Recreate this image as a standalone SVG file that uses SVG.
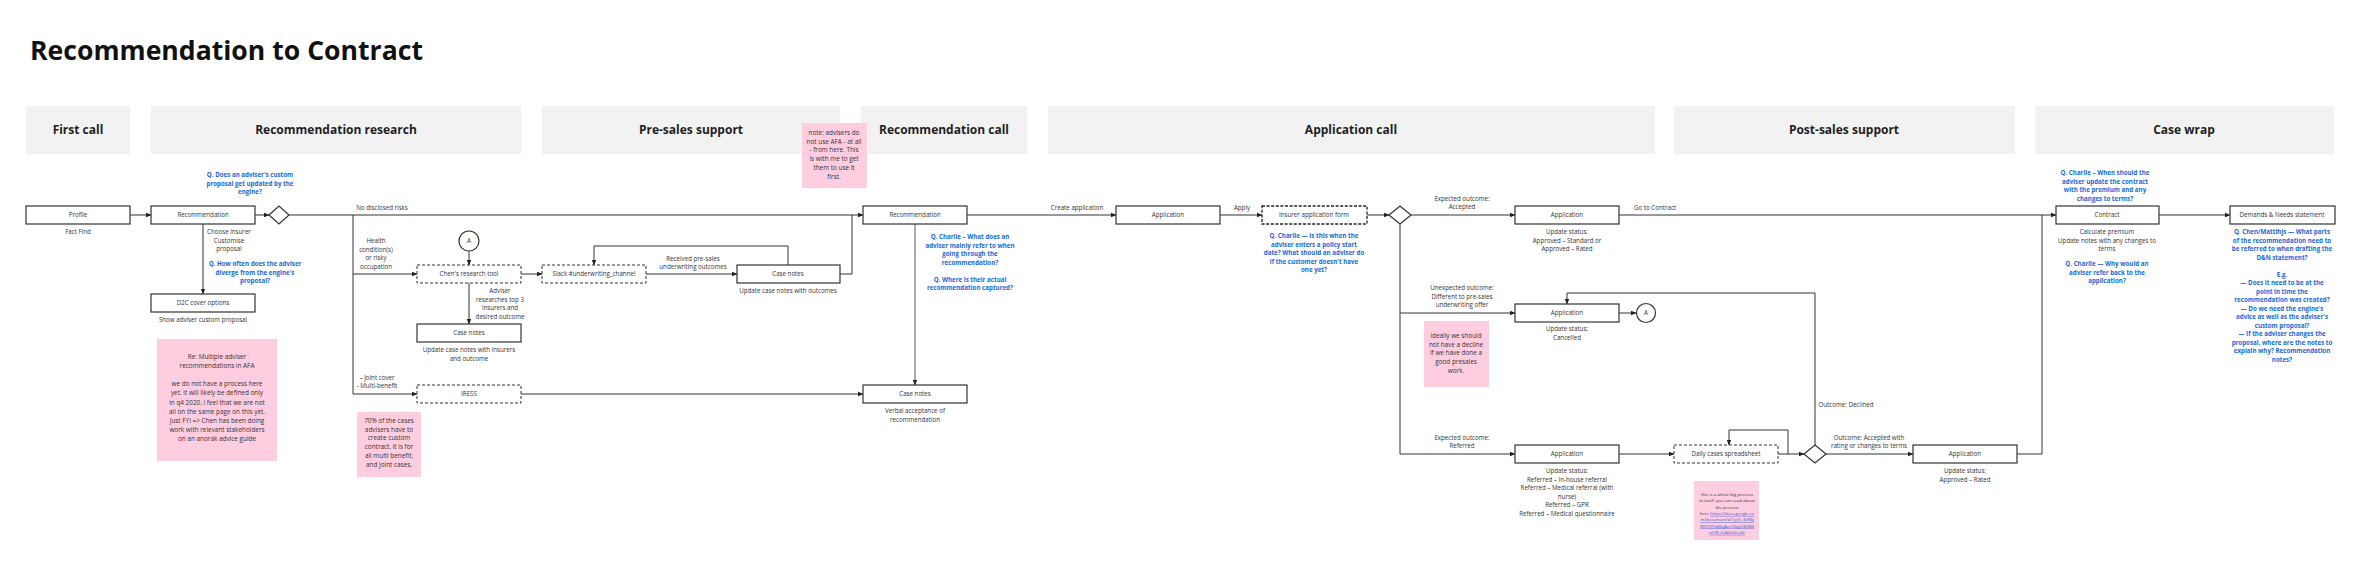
<svg xmlns="http://www.w3.org/2000/svg" width="2366" height="581" viewBox="0 0 2366 581">
<defs>
<marker id="ah" markerWidth="6" markerHeight="6" refX="5.5" refY="3" orient="auto" markerUnits="userSpaceOnUse"><path d="M0,0.6 L6,3 L0,5.4 z" fill="#222"/></marker>
</defs>
<style>
.hd{fill:#f2f2f2}
.ht{font-family:"Open Sans",sans-serif;font-weight:700;font-size:12px;fill:#1f1f1f;text-anchor:middle}
.ti{font-family:"Open Sans",sans-serif;font-weight:700;font-size:26.6px;fill:#111}
.bx{fill:#fff;stroke:#333;stroke-width:1.2}
.dbx{fill:#fff;stroke:#333;stroke-width:1;stroke-dasharray:3 2}
.dbx2{fill:#fff;stroke:#222;stroke-width:1.3;stroke-dasharray:3 1.6}
.t{font-family:"Open Sans",sans-serif;font-size:6.2px;fill:#333;text-anchor:middle}
.q{font-family:"Open Sans",sans-serif;font-size:6.2px;font-weight:700;fill:#1769d8;text-anchor:middle}
.c{fill:none;stroke:#333;stroke-width:1}
.cg{fill:none;stroke:#888;stroke-width:1.4}
.n{fill:#ffcde0}
.nt{font-family:"Open Sans",sans-serif;font-size:6.4px;fill:#333;text-anchor:middle}
.st{font-family:"Open Sans",sans-serif;font-size:4.3px;fill:#333;text-anchor:middle}
.lk{fill:#3b5bdb;text-decoration:underline}
</style>
<rect width="2366" height="581" fill="#fff"/>
<text class="ti" x="30" y="60">Recommendation to Contract</text>

<g id="headers">
<rect class="hd" x="26" y="106" width="104" height="48"/><text class="ht" x="78" y="134">First call</text>
<rect class="hd" x="151" y="106" width="370" height="48"/><text class="ht" x="336" y="134">Recommendation research</text>
<rect class="hd" x="542" y="106" width="298" height="48"/><text class="ht" x="691" y="134">Pre-sales support</text>
<rect class="hd" x="861" y="106" width="166" height="48"/><text class="ht" x="944" y="134">Recommendation call</text>
<rect class="hd" x="1048" y="106" width="607" height="48"/><text class="ht" x="1351" y="134">Application call</text>
<rect class="hd" x="1674" y="106" width="341" height="48"/><text class="ht" x="1844" y="134">Post-sales support</text>
<rect class="hd" x="2035" y="106" width="299" height="48"/><text class="ht" x="2184" y="134">Case wrap</text>
</g>

<g id="connectors">
<path class="c" d="M130,215 H151" marker-end="url(#ah)"/>
<path class="c" d="M255,215 H269" marker-end="url(#ah)"/>
<path class="c" d="M289,215 H863" marker-end="url(#ah)"/>
<path class="c" d="M203,224 V294" marker-end="url(#ah)"/>
<path class="c" d="M353,215 V394 H417" marker-end="url(#ah)"/>
<path class="c" d="M353,274 H417" marker-end="url(#ah)"/>
<path class="c" d="M469,251 V265" marker-end="url(#ah)"/>
<path class="c" d="M469,283 V324" marker-end="url(#ah)"/>
<path class="c" d="M521,274 H542" marker-end="url(#ah)"/>
<path class="c" d="M646,274 H737" marker-end="url(#ah)"/>
<path class="c" d="M788,265 V246 H594 V265" marker-end="url(#ah)"/>
<path class="c" d="M840,274 H852 V215"/>
<path class="c" d="M521,394 H863" marker-end="url(#ah)"/>
<path class="cg" d="M915,224 V385" marker-end="url(#ah)"/>
<path class="c" d="M967,215 H1116" marker-end="url(#ah)"/>
<path class="c" d="M1220,215 H1262" marker-end="url(#ah)"/>
<path class="c" d="M1367,215 H1389" marker-end="url(#ah)"/>
<path class="c" d="M1411,215 H1515" marker-end="url(#ah)"/>
<path class="c" d="M1400,224 V454 H1515" marker-end="url(#ah)"/>
<path class="c" d="M1400,313 H1515" marker-end="url(#ah)"/>
<path class="c" d="M1619,215 H2056" marker-end="url(#ah)"/>
<path class="c" d="M1619,313 H1636" marker-end="url(#ah)"/>
<path class="c" d="M1815,445 V293 H1567 V304" marker-end="url(#ah)"/>
<path class="c" d="M1619,454 H1674" marker-end="url(#ah)"/>
<path class="c" d="M1778,454 H1804" marker-end="url(#ah)"/>
<path class="c" d="M1788,454 V430 H1729 V445" marker-end="url(#ah)"/>
<path class="c" d="M1826,454 H1913" marker-end="url(#ah)"/>
<path class="c" d="M2017,454 H2042 V215"/>
<path class="c" d="M2159,215 H2230" marker-end="url(#ah)"/>

<text class="t" x="382" y="210">No disclosed risks</text>
<text class="t" y="243"><tspan x="376">Health</tspan><tspan x="376" dy="8.5">condition(s)</tspan><tspan x="376" dy="8.5">or risky</tspan><tspan x="376" dy="8.5">occupation</tspan></text>
<text class="t" y="380"><tspan x="377">– Joint cover</tspan><tspan x="377" dy="8.3">- Multi-benefit</tspan></text>
<text class="t" y="261"><tspan x="693">Received pre-sales</tspan><tspan x="693" dy="8.3">underwriting outcomes</tspan></text>
<text class="t" y="293"><tspan x="500">Adviser</tspan><tspan x="500" dy="8.5">researches top 3</tspan><tspan x="500" dy="8.5">insurers and</tspan><tspan x="500" dy="8.5">desired outcome</tspan></text>
<text class="t" y="234"><tspan x="229">Choose insurer</tspan><tspan x="229" dy="8.5">Customise</tspan><tspan x="229" dy="8.5">proposal</tspan></text>
<text class="t" x="1077" y="210">Create application</text>
<text class="t" x="1242" y="210">Apply</text>
<text class="t" y="201"><tspan x="1462">Expected outcome:</tspan><tspan x="1462" dy="8.3">Accepted</tspan></text>
<text class="t" y="290"><tspan x="1462">Unexpected outcome:</tspan><tspan x="1462" dy="8.5">Different to pre-sales</tspan><tspan x="1462" dy="8.5">underwriting offer</tspan></text>
<text class="t" y="440"><tspan x="1462">Expected outcome:</tspan><tspan x="1462" dy="8.3">Referred</tspan></text>
<text class="t" x="1655" y="210">Go to Contract</text>
<text class="t" x="1846" y="407">Outcome: Declined</text>
<text class="t" y="440"><tspan x="1869">Outcome: Accepted with</tspan><tspan x="1869" dy="8.3">rating or changes to terms</tspan></text>
</g>

<g id="profile"><rect class="bx" x="26" y="206" width="104" height="18"/><text class="t" x="78" y="217">Profile</text><text class="t" x="78" y="234">Fact Find</text></g>

<g id="recommendation-research"><rect class="bx" x="151" y="206" width="104" height="18"/><text class="t" x="203" y="217">Recommendation</text>
<text class="q" y="177"><tspan x="250">Q. Does an adviser's custom</tspan><tspan x="250" dy="8.5">proposal get updated by the</tspan><tspan x="250" dy="8.5">engine?</tspan></text>
<text class="q" y="266"><tspan x="255">Q. How often does the adviser</tspan><tspan x="255" dy="8.5">diverge from the engine's</tspan><tspan x="255" dy="8.5">proposal?</tspan></text>
</g>

<g id="decision-1"><polygon class="bx" points="269,215 279,206 289,215 279,224"/></g>

<g id="d2c-cover-options"><rect class="bx" x="151" y="294" width="104" height="18"/><text class="t" x="203" y="305">D2C cover options</text><text class="t" x="203" y="322">Show adviser custom proposal</text></g>

<g id="connector-a-1"><circle class="bx" cx="469" cy="241" r="10"/><text class="t" x="469" y="243">A</text></g>

<g id="chens-research-tool"><rect class="dbx" x="417" y="265" width="104" height="18"/><text class="t" x="469" y="276">Chen's research tool</text></g>

<g id="case-notes-research"><rect class="bx" x="417" y="324" width="104" height="18"/><text class="t" x="469" y="335">Case notes</text>
<text class="t" y="352"><tspan x="469">Update case notes with insurers</tspan><tspan x="469" dy="8.5">and outcome</tspan></text></g>

<g id="iress"><rect class="dbx" x="417" y="385" width="104" height="18"/><text class="t" x="469" y="396">IRESS</text></g>

<g id="slack"><rect class="dbx" x="542" y="265" width="104" height="18"/><text class="t" x="594" y="276">Slack #underwriting_channel</text></g>

<g id="case-notes-presales"><rect class="bx" x="737" y="265" width="103" height="18"/><text class="t" x="788" y="276">Case notes</text><text class="t" x="788" y="293">Update case notes with outcomes</text></g>

<g id="recommendation-call"><rect class="bx" x="863" y="206" width="104" height="18"/><text class="t" x="915" y="217">Recommendation</text>
<text class="q" y="239"><tspan x="970">Q. Charlie – What does an</tspan><tspan x="970" dy="8.5">adviser mainly refer to when</tspan><tspan x="970" dy="8.5">going through the</tspan><tspan x="970" dy="8.5">recommendation?</tspan><tspan x="970" dy="17">Q. Where is their actual</tspan><tspan x="970" dy="8.5">recommendation captured?</tspan></text></g>

<g id="case-notes-call"><rect class="bx" x="863" y="385" width="104" height="18"/><text class="t" x="915" y="396">Case notes</text>
<text class="t" y="413"><tspan x="915">Verbal acceptance of</tspan><tspan x="915" dy="8.5">recommendation</tspan></text></g>

<g id="application-1"><rect class="bx" x="1116" y="206" width="104" height="18"/><text class="t" x="1168" y="217">Application</text></g>

<g id="insurer-application-form"><rect class="dbx2" x="1262" y="206" width="105" height="18"/><text class="t" x="1314" y="217">Insurer application form</text>
<text class="q" y="238"><tspan x="1314">Q. Charlie — Is this when the</tspan><tspan x="1314" dy="8.5">adviser enters a policy start</tspan><tspan x="1314" dy="8.5">date? What should an adviser do</tspan><tspan x="1314" dy="8.5">if the customer doesn't have</tspan><tspan x="1314" dy="8.5">one yet?</tspan></text></g>

<g id="decision-2"><polygon class="bx" points="1389,215 1400,206 1411,215 1400,224"/></g>

<g id="application-accepted"><rect class="bx" x="1515" y="206" width="104" height="18"/><text class="t" x="1567" y="217">Application</text>
<text class="t" y="234"><tspan x="1567">Update status:</tspan><tspan x="1567" dy="8.5">Approved – Standard or</tspan><tspan x="1567" dy="8.5">Approved – Rated</tspan></text></g>

<g id="application-cancelled"><rect class="bx" x="1515" y="304" width="104" height="18"/><text class="t" x="1567" y="315">Application</text>
<text class="t" y="331"><tspan x="1567">Update status:</tspan><tspan x="1567" dy="8.5">Cancelled</tspan></text></g>

<g id="connector-a-2"><circle class="bx" cx="1646" cy="313" r="9.5"/><text class="t" x="1646" y="315">A</text></g>

<g id="application-referred"><rect class="bx" x="1515" y="445" width="104" height="18"/><text class="t" x="1567" y="456">Application</text>
<text class="t" y="473"><tspan x="1567">Update status:</tspan><tspan x="1567" dy="8.5">Referred – In-house referral</tspan><tspan x="1567" dy="8.5">Referred – Medical referral (with</tspan><tspan x="1567" dy="8.5">nurse)</tspan><tspan x="1567" dy="8.5">Referred – GPR</tspan><tspan x="1567" dy="8.5">Referred – Medical questionnaire</tspan></text></g>

<g id="daily-cases-spreadsheet"><rect class="dbx" x="1674" y="445" width="104" height="18"/><text class="t" x="1726" y="456">Daily cases spreadsheet</text></g>

<g id="decision-3"><polygon class="bx" points="1804,454 1815,445 1826,454 1815,463"/></g>

<g id="application-approved"><rect class="bx" x="1913" y="445" width="104" height="18"/><text class="t" x="1965" y="456">Application</text>
<text class="t" y="473"><tspan x="1965">Update status:</tspan><tspan x="1965" dy="8.5">Approved – Rated</tspan></text></g>

<g id="contract"><rect class="bx" x="2056" y="206" width="103" height="18"/><text class="t" x="2107" y="217">Contract</text>
<text class="q" y="175"><tspan x="2105">Q. Charlie – When should the</tspan><tspan x="2105" dy="8.5">adviser update the contract</tspan><tspan x="2105" dy="8.5">with the premium and any</tspan><tspan x="2105" dy="8.5">changes to terms?</tspan></text>
<text class="t" y="234"><tspan x="2107">Calculate premium</tspan><tspan x="2107" dy="8.5">Update notes with any changes to</tspan><tspan x="2107" dy="8.5">terms</tspan></text>
<text class="q" y="266"><tspan x="2107">Q. Charlie — Why would an</tspan><tspan x="2107" dy="8.5">adviser refer back to the</tspan><tspan x="2107" dy="8.5">application?</tspan></text></g>

<g id="demands-needs"><rect class="bx" x="2230" y="206" width="105" height="18"/><text class="t" x="2282" y="217">Demands &amp; Needs statement</text>
<text class="q" y="234"><tspan x="2282">Q. Chen/Mattihjs — What parts</tspan><tspan x="2282" dy="8.5">of the recommendation need to</tspan><tspan x="2282" dy="8.5">be referred to when drafting the</tspan><tspan x="2282" dy="8.5">D&amp;N statement?</tspan><tspan x="2282" dy="17">E.g.</tspan><tspan x="2282" dy="8.5">— Does it need to be at the</tspan><tspan x="2282" dy="8.5">point in time the</tspan><tspan x="2282" dy="8.5">recommendation was created?</tspan><tspan x="2282" dy="8.5">— Do we need the engine's</tspan><tspan x="2282" dy="8.5">advice as well as the adviser's</tspan><tspan x="2282" dy="8.5">custom proposal?</tspan><tspan x="2282" dy="8.5">— If the adviser changes the</tspan><tspan x="2282" dy="8.5">proposal, where are the notes to</tspan><tspan x="2282" dy="8.5">explain why? Recommendation</tspan><tspan x="2282" dy="8.5">notes?</tspan></text></g>

<g id="note-afa"><rect class="n" x="802" y="123" width="65" height="65"/>
<text class="nt" y="135"><tspan x="834">note: advisers do</tspan><tspan x="834" dy="8.7">not use AFA - at all</tspan><tspan x="834" dy="8.7">- from here. This</tspan><tspan x="834" dy="8.7">is with me to get</tspan><tspan x="834" dy="8.7">them to use it</tspan><tspan x="834" dy="8.7">first.</tspan></text></g>

<g id="note-multiple"><rect class="n" x="157" y="339" width="120" height="122"/>
<text class="nt" y="359"><tspan x="217">Re: Multiple adviser</tspan><tspan x="217" dy="9.1">recommendations in AFA</tspan><tspan x="217" dy="18.2">we do not have a process here</tspan><tspan x="217" dy="9.1">yet. it will likely be defined only</tspan><tspan x="217" dy="9.1">in q4 2020. i feel that we are not</tspan><tspan x="217" dy="9.1">all on the same page on this yet.</tspan><tspan x="217" dy="9.1">Just FYI =&gt; Chen has been doing</tspan><tspan x="217" dy="9.1">work with relevant stakeholders</tspan><tspan x="217" dy="9.1">on an anorak advice guide</tspan></text></g>

<g id="note-70"><rect class="n" x="357" y="412" width="64" height="65"/>
<text class="nt" y="423"><tspan x="389">70% of the cases</tspan><tspan x="389" dy="8.7">advisers have to</tspan><tspan x="389" dy="8.7">create custom</tspan><tspan x="389" dy="8.7">contract. it is for</tspan><tspan x="389" dy="8.7">all multi benefit,</tspan><tspan x="389" dy="8.7">and joint cases.</tspan></text></g>

<g id="note-decline"><rect class="n" x="1424" y="321" width="65" height="66"/>
<text class="nt" y="338"><tspan x="1456">ideally we should</tspan><tspan x="1456" dy="8.7">not have a decline</tspan><tspan x="1456" dy="8.7">if we have done a</tspan><tspan x="1456" dy="8.7">good presales</tspan><tspan x="1456" dy="8.7">work.</tspan></text></g>

<g id="note-process"><rect class="n" x="1694" y="481" width="65" height="59"/>
<text class="st" y="496"><tspan x="1727">this is a whole big process</tspan><tspan x="1727" dy="6.3">in itself. you can read about</tspan><tspan x="1727" dy="6.3">the process</tspan><tspan x="1727" dy="6.3">here <tspan class="lk">https://docs.google.co</tspan></tspan><tspan x="1727" dy="6.3" class="lk">m/document/d/1jrj5_3xRBj</tspan><tspan x="1727" dy="6.3" class="lk">W0TDTqMqjAcc03qjOBXB4</tspan><tspan x="1727" dy="6.3" class="lk">mVB_tUA3tt4/edit</tspan></text></g>
</svg>
